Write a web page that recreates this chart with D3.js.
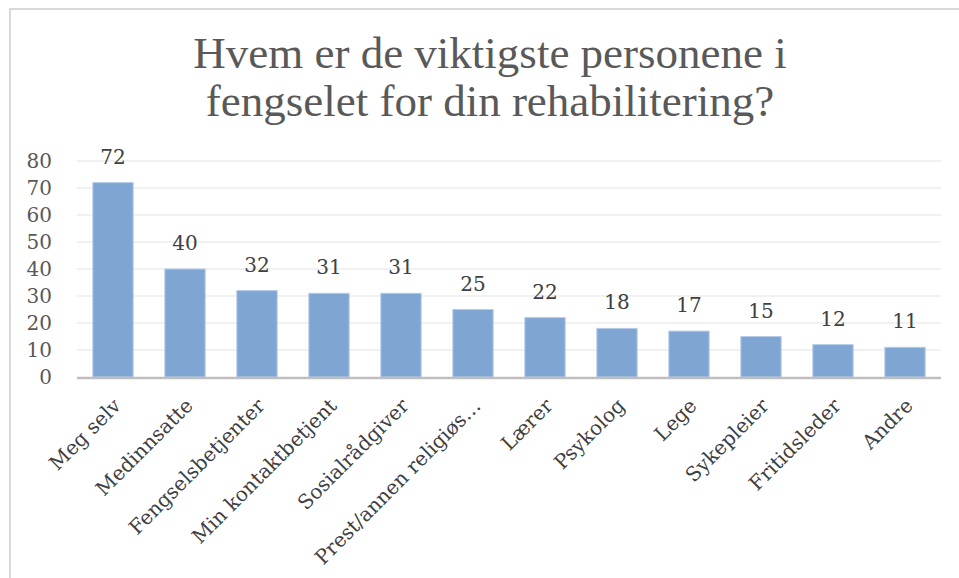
<!DOCTYPE html>
<html>
<head>
<meta charset="utf-8">
<script src="https://cdn.jsdelivr.net/npm/d3@7"></script>
<style>
  html, body { margin: 0; padding: 0; background: #fff; }
  svg { display: block; }
</style>
</head>
<body>
<div id="chart"></div>
<script>
// data
const titleLines = ["Hvem er de viktigste personene i", "fengselet for din rehabilitering?"];
const categories = ["Meg selv", "Medinnsatte", "Fengselsbetjenter", "Min kontaktbetjent",
  "Sosialrådgiver", "Prest/annen religiøs…", "Lærer", "Psykolog", "Lege",
  "Sykepleier", "Fritidsleder", "Andre"];
const values = [72, 40, 32, 31, 31, 25, 22, 18, 17, 15, 12, 11];
const yTicks = [0, 10, 20, 30, 40, 50, 60, 70, 80];

const width = 959, height = 578;
const margin = { top: 161, right: 18, bottom: 201, left: 77 };
const serif = "'DejaVu Serif', serif";

const svg = d3.select("#chart").append("svg")
  .attr("width", width)
  .attr("height", height);

// chart frame (only left and top visible)
svg.append("rect")
  .attr("x", 10).attr("y", 9)
  .attr("width", width + 20).attr("height", height + 20)
  .attr("fill", "none")
  .attr("stroke", "#d9d9d9")
  .attr("stroke-width", 2);

// title
svg.append("text")
  .attr("text-anchor", "middle")
  .attr("fill", "#595959")
  .style("font-family", "'Liberation Serif', 'Times New Roman', serif")
  .style("font-size", "45px")
  .selectAll("tspan")
  .data(titleLines)
  .join("tspan")
  .attr("x", 490)
  .attr("y", (d, i) => 68 + i * 48)
  .text(d => d);

const x = d3.scaleBand()
  .domain(categories)
  .range([margin.left, width - margin.right])
  .paddingInner(0.44)
  .paddingOuter(0.22);

const y = d3.scaleLinear()
  .domain([0, 80])
  .range([height - margin.bottom, margin.top]);

// gridlines
svg.append("g")
  .selectAll("line")
  .data(yTicks.slice(1))
  .join("line")
  .attr("x1", margin.left)
  .attr("x2", width - margin.right)
  .attr("y1", d => y(d))
  .attr("y2", d => y(d))
  .attr("stroke", "#ececec")
  .attr("stroke-width", 1.3);

// y axis labels
const yAxis = svg.append("g")
  .attr("transform", `translate(${margin.left},0)`)
  .call(d3.axisLeft(y).tickValues(yTicks).tickSize(0).tickPadding(25));
yAxis.select(".domain").remove();
yAxis.selectAll("text")
  .attr("fill", "#595959")
  .style("font-family", serif)
  .style("font-size", "20px");

// bars
svg.append("g")
  .selectAll("rect")
  .data(values)
  .join("rect")
  .attr("x", (d, i) => x(categories[i]))
  .attr("y", d => y(d))
  .attr("width", x.bandwidth())
  .attr("height", d => y(0) - y(d))
  .attr("fill", "#7fa6d2")
  .attr("stroke", "#b7cce6")
  .attr("stroke-width", 1);

// value labels
svg.append("g")
  .selectAll("text")
  .data(values)
  .join("text")
  .attr("x", (d, i) => x(categories[i]) + x.bandwidth() / 2)
  .attr("y", d => y(d) - 19)
  .attr("text-anchor", "middle")
  .attr("fill", "#404040")
  .style("font-family", serif)
  .style("font-size", "20px")
  .text(d => d);

// x axis line
svg.append("line")
  .attr("x1", margin.left)
  .attr("x2", width - margin.right)
  .attr("y1", y(0) + 1)
  .attr("y2", y(0) + 1)
  .attr("stroke", "#bfbfbf")
  .attr("stroke-width", 2.5);

// x axis labels, rotated
svg.append("g")
  .selectAll("text")
  .data(categories)
  .join("text")
  .attr("transform", d => `translate(${x(d) + x.bandwidth() / 2 + 9},${y(0) + 30}) rotate(-45)`)
  .attr("text-anchor", "end")
  .attr("fill", "#404040")
  .style("font-family", serif)
  .style("font-size", "20px")
  .text(d => d);
</script>
</body>
</html>
